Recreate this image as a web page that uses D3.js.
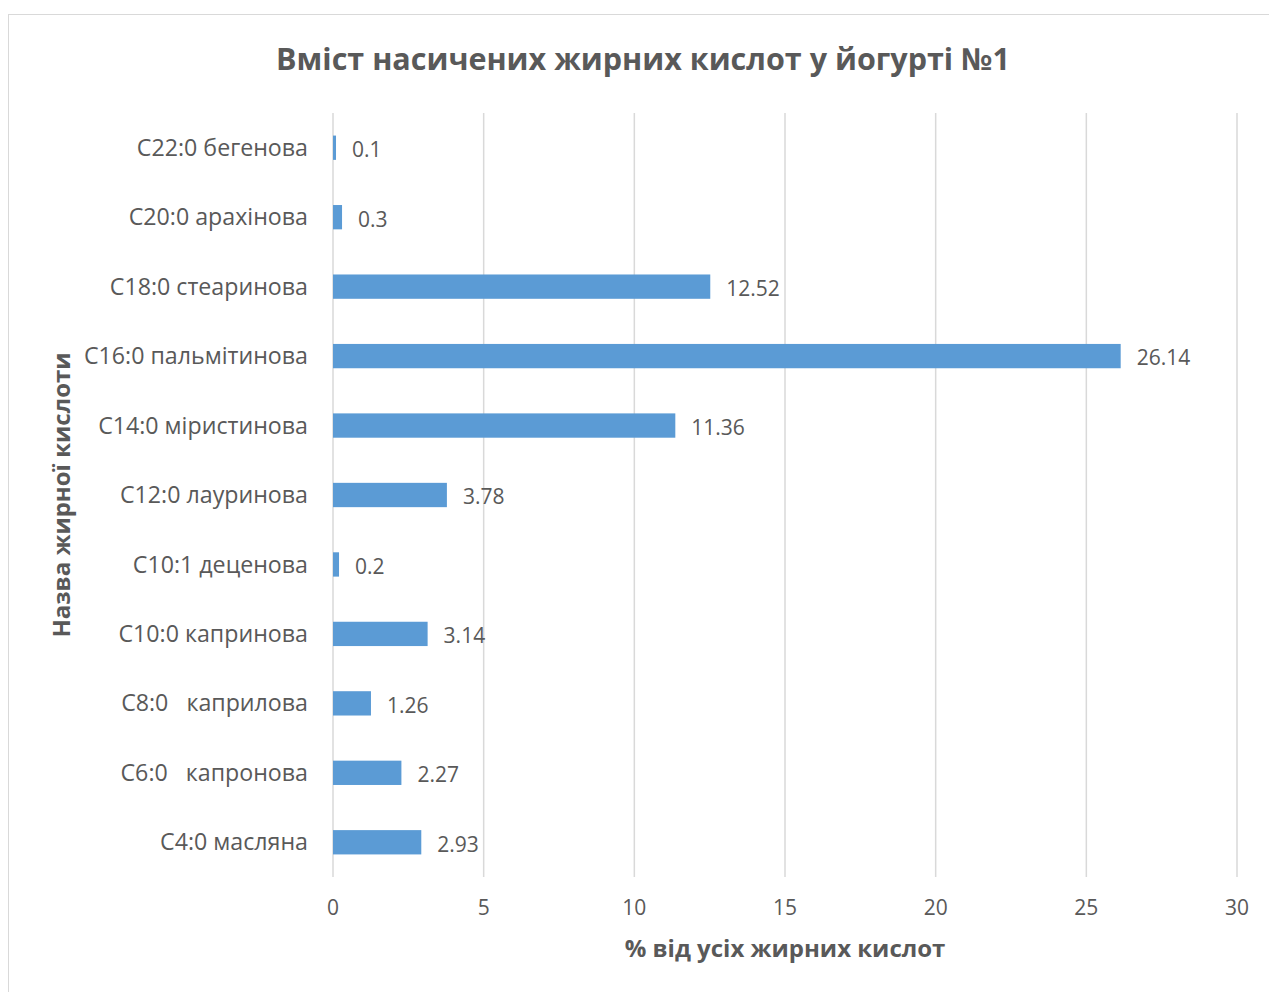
<!DOCTYPE html>
<html>
<head>
<meta charset="utf-8">
<script src="https://cdnjs.cloudflare.com/ajax/libs/d3/7.8.5/d3.min.js"></script>
<style>
  body { margin: 0; background: #fff; }
  text { font-family: "Open Sans", "Noto Sans", sans-serif; fill: #595959; }
</style>
</head>
<body>
<svg id="chart" width="1269" height="992"></svg>
<script>
"use strict";
// data, top to bottom as drawn
var acids = [
  "C22:0 бегенова",
  "C20:0 арахінова",
  "C18:0 стеаринова",
  "C16:0 пальмітинова",
  "C14:0 міристинова",
  "C12:0 лауринова",
  "C10:1 деценова",
  "C10:0 капринова",
  "C8:0   каприлова",
  "C6:0   капронова",
  "C4:0 масляна"
];
var percents = [0.1, 0.3, 12.52, 26.14, 11.36, 3.78, 0.2, 3.14, 1.26, 2.27, 2.93];
var xTicks = [0, 5, 10, 15, 20, 25, 30];

var chartTitle = "Вміст насичених жирних кислот у йогурті №1";
var xTitle = "% від усіх жирних кислот";
var yTitle = "Назва жирної кислоти";

var svg = d3.select("#chart");
var plotLeft = 333, plotRight = 1237, plotTop = 113, plotBottom = 877;

// chart frame
svg.append("rect")
  .attr("x", 8.5).attr("y", 14.5)
  .attr("width", 1300).attr("height", 1100)
  .attr("fill", "none").attr("stroke", "#d9d9d9");

var x = d3.scaleLinear().domain([0, 30]).range([plotLeft, plotRight]);
var y = d3.scaleBand().domain(acids).range([plotTop, plotBottom]).paddingInner(0.65).paddingOuter(0.325);

// gridlines
svg.append("g").selectAll("line")
  .data(xTicks)
  .enter().append("line")
  .attr("x1", function (d) { return x(d); })
  .attr("x2", function (d) { return x(d); })
  .attr("y1", plotTop).attr("y2", plotBottom)
  .attr("stroke", "#d9d9d9").attr("stroke-width", 1.5);

// tick labels
svg.append("g").selectAll("text")
  .data(xTicks)
  .enter().append("text")
  .attr("x", function (d) { return x(d); })
  .attr("y", 908)
  .attr("dy", "0.35em")
  .attr("text-anchor", "middle")
  .style("font-size", "21px")
  .text(function (d) { return d; });

var rows = acids.map(function (a, i) { return { name: a, value: percents[i] }; });

// bars
svg.append("g").selectAll("rect")
  .data(rows)
  .enter().append("rect")
  .attr("x", x(0))
  .attr("y", function (d) { return y(d.name); })
  .attr("width", function (d) { return x(d.value) - x(0); })
  .attr("height", y.bandwidth())
  .attr("fill", "#5b9bd5");

// value labels
svg.append("g").selectAll("text")
  .data(rows)
  .enter().append("text")
  .attr("x", function (d) { return x(d.value) + 16; })
  .attr("y", function (d) { return y(d.name) + y.bandwidth() / 2 + 2; })
  .attr("dy", "0.35em")
  .style("font-size", "21px")
  .text(function (d) { return d.value; });

// category labels
svg.append("g").selectAll("text")
  .data(acids)
  .enter().append("text")
  .attr("x", plotLeft - 25)
  .attr("y", function (d) { return y(d) + y.bandwidth() / 2; })
  .attr("dy", "0.35em")
  .attr("text-anchor", "end")
  .style("font-size", "23.2px")
  .style("white-space", "pre")
  .text(function (d) { return d; });

// titles
svg.append("text")
  .attr("x", 643).attr("y", 59)
  .attr("dy", "0.35em")
  .attr("text-anchor", "middle")
  .style("font-size", "30.5px").style("font-weight", "bold")
  .text(chartTitle);

svg.append("text")
  .attr("x", 785).attr("y", 949)
  .attr("dy", "0.35em")
  .attr("text-anchor", "middle")
  .style("font-size", "24px").style("font-weight", "bold")
  .text(xTitle);

svg.append("text")
  .attr("transform", "translate(62,495) rotate(-90)")
  .attr("dy", "0.35em")
  .attr("text-anchor", "middle")
  .style("font-size", "24px").style("font-weight", "bold")
  .text(yTitle);
</script>
</body>
</html>
